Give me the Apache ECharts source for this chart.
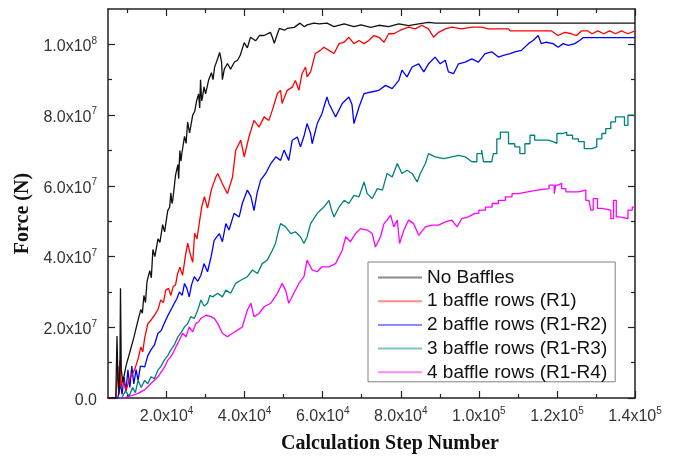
<!DOCTYPE html>
<html>
<head>
<meta charset="utf-8">
<title>Force vs Calculation Step Number</title>
<script src="https://cdn.jsdelivr.net/npm/echarts@6/dist/echarts.min.js"></script>
<style>
  html, body { margin: 0; padding: 0; background: #fff; }
  #chart { width: 676px; height: 459px; }
</style>
</head>
<body>
<div id="chart"></div>
<script>
// Units: steps in thousands (x), force in meganewtons (y)
const STEP_UNIT = 1e3;
const FORCE_UNIT = 1e6;

const seriesNames = [
  'No Baffles',
  '1 baffle rows (R1)',
  '2 baffle rows (R1-R2)',
  '3 baffle rows (R1-R3)',
  '4 baffle rows (R1-R4)'
];

const xMajorTicks = [20, 40, 60, 80, 100, 120, 140];
const xMinorTicks = [10, 30, 50, 70, 90, 110, 130];
const yMajorTicks = [0, 20, 40, 60, 80, 100];
const yMinorTicks = [10, 30, 50, 70, 90];

const noBaffles = [
  [5,0],[7.0,0],[7.3,17.5],[7.55,5],[7.8,1],[8.06,10],[8.2,31],[8.4,8],[8.8,4.5],[9.6,9],[10.6,13],
  [11.6,17],[12.7,22],[13.4,25],[13.8,24],[14.2,29],[14.6,27],[15,33],[15.7,36],[16.1,34],[16.5,42],
  [17,40],[17.8,45],[18.3,44],[19,49],[19.5,47],[20.3,53],[20.8,54],[21.1,58],[21.4,55],[21.6,56],
  [22.3,63],[22.9,66],[23.1,62],[23.4,70],[23.7,67],[23.9,69],[24.6,74],[25,72],[25.4,78],[25.9,75],
  [26.7,80],[27.2,81],[27.7,84],[28.2,86],[28.5,82],[28.7,90],[29,84],[29.2,85],[29.6,88],[30,86],
  [30.8,90],[31.5,92],[31.9,90],[32.3,93.5],[33.1,96],[33.6,97.7],[34.1,95],[34.3,90],[34.8,93],
  [35.6,94.6],[36.4,93],[37.4,95],[38.2,95.5],[38.9,97],[39.9,100.5],[40.7,99],[41.5,102],[42.8,101],
  [43.8,102.5],[45,102.5],[46.6,103.4],[47.1,102],[47.6,100.3],[48.4,103],[48.9,104.5],[50.2,104],
  [50.9,104.5],[52.7,104.8],[54.2,106],[55.3,105],[56,105.5],[57.8,106],[59.1,105.8],[61.1,106],
  [62.9,105],[65.5,105.8],[68,105],[69.8,105.5],[72.3,104.8],[74.4,105.4],[76.9,105],[79.5,105.8],
  [82,105.3],[84.6,105.8],[87.1,106.2],[88.9,106],[140,106]
];

const oneRow = [
  [5,0],[7.0,0],[7.55,9],[7.8,2],[8.1,10.7],[8.3,3],[8.8,6],[9.6,2],[10.4,5],[11.1,6.5],[11.8,8],
  [12.7,11],[13.4,14.4],[13.9,13],[14.4,17],[15.2,21],[16,22],[16.9,23.4],[17.8,25],[18.5,27.7],
  [19.2,27],[19.8,30.5],[20.5,31],[21.1,29],[21.7,31.5],[22.3,32],[22.8,35],[23.4,37],[24.1,34.7],
  [24.8,40],[25.4,43.8],[26,41],[26.7,38.4],[27.2,46.6],[27.8,45],[28.5,50.3],[29,54],[29.7,56.9],
  [30.5,53.7],[31.5,59],[32.6,62.4],[33.1,63.5],[34.3,60.6],[35.6,57.8],[36.9,62.5],[37.7,70],
  [39,72.9],[39.9,68.2],[41.1,73.8],[42.4,78.5],[43.7,76.6],[45,79.5],[46.2,78.5],[47.1,81.4],
  [48.4,86.1],[49.2,87],[49.6,83.3],[50.9,87],[52.2,87.9],[53,89.8],[53.9,87],[54.7,91.7],[55.6,93.6],
  [56,90.8],[56.9,92.2],[58.1,97.4],[59.4,98.3],[60.3,99.2],[61.6,98.3],[62.9,97.4],[64.2,100.2],
  [65.5,100.6],[66.7,102],[68,100.2],[69.3,101.1],[70.6,100.2],[71.8,101.1],[73.1,102.5],[74.4,102],
  [75.7,100.6],[76.9,103],[78.2,103],[79.9,104],[82,104.9],[83.7,104.4],[85.4,105.4],[87.1,104.4],
  [88.4,102],[89.7,103.4],[91.4,104.4],[93.1,104.9],[95.6,104.4],[98.2,104.9],[100.7,104.9],
  [102.4,104.4],[107.6,104.4],[108,103.8],[118.6,103.8],[120.3,102.5],[122,103.4],[123.7,103],
  [125,102.5],[126.3,103.8],[127.9,103.8],[129,103],[130.5,103.8],[132,103],[133.5,103.8],[135,103],
  [136.5,103.8],[138.2,103],[140,103.8]
];

const twoRows = [
  [5,0],[7.5,0],[8.2,4],[8.6,1],[9.1,6],[9.6,2],[10.1,8],[10.6,3],[11.1,9],[11.6,4],[12.2,8],[12.7,5],
  [13.3,9],[14.4,8.8],[15.2,12],[16,13.6],[16.9,15],[17.8,18.3],[18.6,19],[19.4,21.1],[20.2,23],
  [21.1,24.9],[22,26.8],[22.6,28],[23.3,30],[24,29],[24.6,32.4],[25.2,31],[25.8,28.6],[26.4,32],
  [27.1,34.3],[28,33],[28.8,34.7],[29.6,38],[30.5,35.7],[31.4,39.9],[32.2,44.6],[33.5,46.5],
  [34.3,44.2],[35.2,49.3],[36,47.5],[37.3,52.2],[38.6,51.2],[39.4,55],[40.7,58.8],[41.6,57],
  [42.4,53],[43.2,58],[44.1,61.6],[45.4,63.5],[46.7,66.3],[48,68.2],[49.2,67.2],[50.1,70.1],
  [51.3,67.2],[52.2,72.9],[53.5,73.8],[54.3,71],[55.2,74],[56,77.6],[56.9,74.8],[57.3,71.9],
  [58.6,77.6],[59.8,80.4],[60.5,83],[61.1,85.1],[61.6,83.3],[62.9,80.4],[63.3,79.5],[65,83.3],
  [66.7,85.1],[67.5,83],[68,77.6],[69.3,82.3],[70.6,86.1],[72.7,86.6],[74.4,87],[76.1,88.4],
  [77.8,87.5],[79.5,89.8],[80.3,92.7],[81.6,90.8],[82.9,93.6],[84.6,94.5],[85.9,92.2],[87.1,94.5],
  [88.8,96.4],[90.1,94.5],[91.4,95.5],[92.2,92.2],[93.5,91.7],[94.8,94.5],[96.5,95],[98.2,95.9],
  [99.9,95],[101.6,97.4],[103.3,97.9],[105,96.4],[106.3,96.9],[108,97.4],[109.2,97.9],[110.9,98.3],
  [112.7,100.2],[113.9,101.1],[115.2,102.5],[116,100.2],[117.3,100.6],[119,100.2],[120.3,99.2],
  [121.6,100.2],[122.9,99.7],[124.6,100.2],[125.8,101.1],[126.7,101.9],[140,101.9]
];

const threeRows = [
  [5,0],[8.5,0],[9.5,2],[10.4,0.5],[11.3,3],[12.0,1.5],[12.7,5],[13.5,3],[14.4,5],[15.2,4],[16,6],
  [16.9,5.5],[17.8,7.9],[18.6,9],[19.4,10.7],[20.3,12],[21.1,13.6],[22,15],[22.9,17.3],[23.7,18.5],
  [24.6,20.1],[25.4,21],[26.2,23],[27.1,22.5],[28,24.9],[28.8,27.7],[29.6,26],[30.5,26.8],[31.1,29],
  [31.8,28.6],[33.1,29.6],[34.3,28.6],[35.2,30.5],[36.4,29.6],[37.7,32.4],[39,33.3],[40.7,34.3],
  [42,36.2],[43.3,35.2],[44.5,38],[45.8,39],[47.1,41.8],[47.9,43.7],[48.6,47],[49.2,49.3],[50.5,48.4],
  [51.8,46.5],[53,47],[54.3,45.6],[55.2,43.7],[56,45.6],[56.9,49.3],[58.6,52.2],[60.3,54],[61.6,55.9],
  [62.3,53],[62.9,51.2],[64.2,54],[65.5,55.9],[66.7,55],[68,57.3],[69.3,56.9],[70.6,61.1],[71.4,57.8],
  [72.7,56.4],[74,59.2],[75.3,58.8],[76.5,63.5],[77.8,62.5],[79.1,66.3],[80.3,63.5],[81.6,64.4],
  [82.9,63.5],[84.2,61.1],[85,63.5],[86.3,66.3],[87.1,69.1],[88.8,68.2],[91,67.7],[93.1,68.2],
  [94.8,68.6],[96.5,68.2],[98.2,66.8],[99.5,66.8],[99.5,69.1],[100.7,69.1],[100.7,70.1],[101.2,70.1],
  [101.2,66.8],[103.3,66.8],[103.3,66.3],[103.7,66.3],[103.7,69.1],[104.6,69.1],[104.6,73.3],
  [105.5,73.3],[105.5,75.2],[107.6,75.2],[107.6,71.9],[109.2,71.9],[109.2,71],[110.5,71],[110.5,69.1],
  [111.8,69.1],[111.8,71.9],[113.1,71.9],[113.1,74.3],[114.3,74.3],[114.3,72.9],[117.8,72.9],
  [117.8,72.5],[119,72.5],[119,72],[120,72],[120,74.8],[121.6,74.8],[121.6,75.2],[122.5,75.2],
  [122.5,74.3],[124,74.3],[124,73.3],[125.5,73.3],[125.5,72.5],[127,72.5],[127,70.5],[129,70.5],
  [129,71],[130.2,71],[130.2,73.3],[131.5,73.3],[131.5,74.8],[132.5,74.8],[132.5,76.2],[133.8,76.2],
  [133.8,78.1],[135,78.1],[135,79.5],[137.3,79.5],[137.3,77.1],[138.2,77.1],[138.2,80],[140,80]
];

const fourRows = [
  [5,0],[9,0],[10.1,0.4],[11.4,0.8],[12.7,1.3],[13.5,1.8],[14.4,2.3],[15.2,3.2],[16,4.1],[16.9,5],
  [17.8,6],[18.4,7],[19,7.9],[19.6,9],[20.3,10.7],[21,11.5],[21.6,12.6],[22.4,14.5],[22.9,15.5],
  [23.3,16.4],[24.1,18.3],[25,17.3],[25.8,20.1],[26.7,18.7],[27.5,21.1],[28.2,21.5],[28.8,22.5],
  [30.1,23.4],[31.4,23],[32.2,22.5],[33.1,21.1],[34.3,18.3],[35.6,17.3],[36.9,18.3],[38.2,19.2],
  [39.4,20.1],[40.7,24.9],[41.6,26.8],[42.4,23],[43.7,23.9],[45,25.8],[46.7,26.8],[48.4,29.6],
  [49.6,32.4],[50.5,30.5],[51.3,26.8],[52.6,29.6],[53.9,32.4],[55.2,34.3],[56,39],[57.3,36.2],
  [58.6,35.7],[59.8,37.1],[61.6,37.1],[63.3,38],[65,41.8],[65.9,45.6],[67.1,44.2],[68.4,46.5],
  [69.7,47.9],[71.4,47.5],[72.7,46.5],[73.5,42.7],[74.8,45.6],[75.7,49.3],[76.5,50.3],[77.4,51.7],
  [78.2,48.4],[79.1,50.3],[79.7,43.7],[80.8,47.5],[82,50.3],[83.3,49.3],[84.6,46],[86.3,48.4],
  [88,48.9],[89.7,48.9],[91.4,49.8],[93.1,50.3],[94.4,48.4],[95.6,50.7],[97.3,51.2],[99,52.2],
  [100,52.2],[100,53.1],[101.7,53.1],[101.7,54],[103.4,54],[103.4,55],[105,55],[105,55.9],[106.8,55.9],
  [106.8,56.9],[108.5,56.9],[108.5,57.8],[110.2,57.8],[110.2,58.3],[112.5,58.3],[112.5,58.8],[115,58.8],
  [115,59.2],[118,59.2],[118,60.2],[119.3,60.2],[119.3,57.8],[119.7,57.8],[119.7,60.2],[120.3,60.2],
  [120.3,60.7],[121.2,60.7],[121.2,59.2],[122.3,59.2],[122.3,58.3],[125.5,58.3],[125.5,58.8],
  [127.4,58.8],[127.4,55.9],[128.2,55.9],[128.2,55.5],[128.7,55.5],[128.7,53.1],[129.3,53.1],
  [129.3,56.4],[130.4,56.4],[130.4,53.6],[131.6,53.6],[131.6,53.1],[133.8,53.1],[133.8,50.7],
  [134.5,50.7],[134.5,55.9],[135.2,55.9],[135.2,51.2],[136,51.2],[136,50.7],[138.2,50.7],[138.2,53.1],
  [139.3,53.1],[139.3,54],[140,54]
];

const seriesData = [noBaffles, oneRow, twoRows, threeRows, fourRows];
const lineColors = ['#111111', '#ff0000', '#0000ff', '#008080', '#ff00ff'];
const legendColors = ['#8a8a8a', '#ff8a8a', '#8a8aff', '#82c4c0', '#ff8aff'];

const X_MIN = 5, X_MAX = 140, Y_MIN = 0, Y_MAX = 110;

// "m x 10^e" label as rich text with a raised exponent
function sciLabel(real) {
  if (real === 0) return '{m|0.0}';
  const e = Math.floor(Math.log10(real) + 1e-9);
  const m = (real / Math.pow(10, e)).toFixed(1);
  return '{m|' + m + 'x10}{e|' + e + '}';
}

const frameColor = '#222';
const labelRich = {
  m: { fontFamily: 'Liberation Sans', fontSize: 16, color: '#333', lineHeight: 22, verticalAlign: 'middle' },
  e: { fontFamily: 'Liberation Sans', fontSize: 10, color: '#333', lineHeight: 22, verticalAlign: 'top' }
};

function frameAxis(position, range, ticks, tickLen, withLine) {
  return {
    type: 'value',
    position: position,
    min: range[0],
    max: range[1],
    axisLine: { show: withLine, onZero: false, lineStyle: { color: frameColor, width: 1.5 } },
    axisTick: { show: true, inside: true, length: tickLen, customValues: ticks,
                lineStyle: { color: frameColor, width: 1.2 } },
    axisLabel: { show: false },
    splitLine: { show: false }
  };
}

const xMain = frameAxis('bottom', [X_MIN, X_MAX], xMajorTicks, 7, true);
xMain.axisLabel = {
  show: true,
  customValues: xMajorTicks,
  margin: 8,
  formatter: v => sciLabel(Math.round(v * STEP_UNIT)),
  rich: labelRich
};
xMain.name = 'Calculation Step Number';
xMain.nameLocation = 'middle';
xMain.nameGap = 36;
xMain.nameTextStyle = {
  fontFamily: 'Liberation Serif', fontWeight: 'bold', fontSize: 20, color: '#111',
  padding: [0, 0, 0, 37]
};

const yMain = frameAxis('left', [Y_MIN, Y_MAX], yMajorTicks, 7, true);
yMain.axisLabel = {
  show: true,
  customValues: yMajorTicks,
  margin: 11,
  padding: [5, 0, 0, 0],
  formatter: v => sciLabel(Math.round(v * FORCE_UNIT)),
  rich: labelRich
};
yMain.name = 'Force (N)';
yMain.nameLocation = 'middle';
yMain.nameGap = 74;
yMain.nameTextStyle = {
  fontFamily: 'Liberation Serif', fontWeight: 'bold', fontSize: 20, color: '#111',
  padding: [0, 20, 0, 0]
};

const option = {
  animation: false,
  backgroundColor: '#fff',
  grid: { left: 108, right: 41, top: 9, bottom: 61, containLabel: false, outerBoundsMode: 'none' },
  xAxis: [
    xMain,
    frameAxis('bottom', [X_MIN, X_MAX], xMinorTicks, 4, false),
    frameAxis('top', [X_MIN, X_MAX], xMajorTicks, 7, true),
    frameAxis('top', [X_MIN, X_MAX], xMinorTicks, 4, false)
  ],
  yAxis: [
    yMain,
    frameAxis('left', [Y_MIN, Y_MAX], yMinorTicks, 4, false),
    frameAxis('right', [Y_MIN, Y_MAX], yMajorTicks, 7, true),
    frameAxis('right', [Y_MIN, Y_MAX], yMinorTicks, 4, false)
  ],
  legend: {
    orient: 'vertical',
    left: 368,
    top: 262,
    padding: [6, 8, 0, 10],
    itemGap: 4.7,
    itemWidth: 44,
    itemHeight: 2,
    backgroundColor: '#fff',
    borderColor: '#808080',
    borderWidth: 1,
    textStyle: { fontFamily: 'Liberation Sans', fontSize: 19, color: '#111', lineHeight: 18 },
    data: seriesNames.map((n, i) => ({ name: n, icon: 'rect', itemStyle: { color: legendColors[i] } }))
  },
  series: seriesNames.map((n, i) => ({
    name: n,
    type: 'line',
    xAxisIndex: 0,
    yAxisIndex: 0,
    data: seriesData[i],
    showSymbol: false,
    symbol: 'none',
    color: lineColors[i],
    lineStyle: { color: lineColors[i], width: 1.3 },
    z: 2 + (4 - i)
  }))
};

const chart = echarts.init(document.getElementById('chart'), null, { renderer: 'canvas' });
chart.setOption(option);
</script>
</body>
</html>
